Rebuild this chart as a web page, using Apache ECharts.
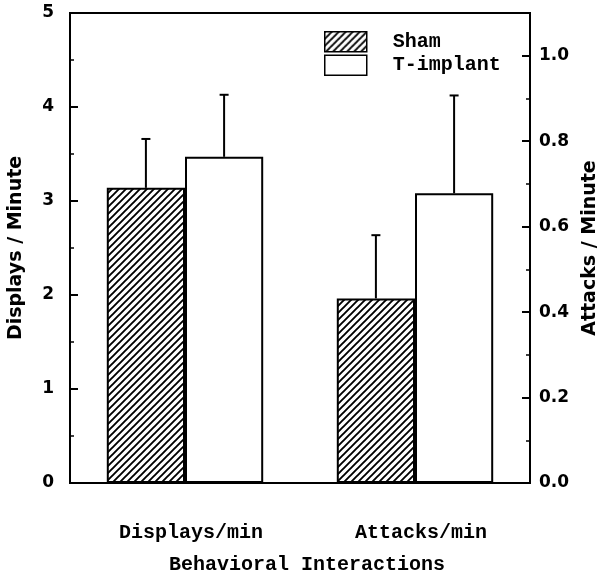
<!DOCTYPE html>
<html>
<head>
<meta charset="utf-8">
<script src="https://cdn.jsdelivr.net/npm/echarts@6/dist/echarts.min.js"></script>
<style>
  html, body { margin: 0; padding: 0; background: #fff; overflow: hidden; }
  #chart { width: 598px; height: 576px; }
</style>
</head>
<body>
<div id="chart"></div>
<script>
// ---- data ----
const categories = ['Displays/min', 'Attacks/min'];
const seriesNames = ['Sham', 'T-implant'];
const shamMean = [3.14, 0.432];     // displays on left axis, attacks on right axis
const tMean = [3.47, 0.678];
const shamUpper = [3.66, 0.580];    // top of error bar
const tUpper = [4.13, 0.907];
const leftTicks = [0, 1, 2, 3, 4, 5];
const rightTicks = [0.0, 0.2, 0.4, 0.6, 0.8, 1.0];

// ---- hatch pattern ----
function makeHatch() {
  const s = 7;
  const c = document.createElement('canvas');
  c.width = s; c.height = s;
  const g = c.getContext('2d');
  g.fillStyle = '#fff';
  g.fillRect(0, 0, s, s);
  g.strokeStyle = '#000';
  g.lineWidth = 1.9;
  g.beginPath();
  g.moveTo(-1, s + 1); g.lineTo(s + 1, -1);
  g.moveTo(-1, 1); g.lineTo(1, -1);
  g.moveTo(s - 1, s + 1); g.lineTo(s + 1, s - 1);
  g.stroke();
  return c;
}
const hatch = { image: makeHatch(), repeat: 'repeat' };

const BAR_W = '34%';
const monoFont = 'Liberation Mono';
const sansFont = 'DejaVu Sans';

function errorRender(params, api) {
  const cat = api.value(0);
  const mean = api.value(1);
  const upper = api.value(2);
  const side = api.value(3);
  const bandW = api.size([1, 0])[0];
  const bw = bandW * 0.34;
  const p0 = api.coord([cat, mean]);
  const p1 = api.coord([cat, upper]);
  const x = p0[0] + side * bw / 2;
  const capHalf = 4.5;
  return {
    type: 'group',
    children: [
      { type: 'line', shape: { x1: x, y1: p0[1], x2: x, y2: p1[1] }, style: { stroke: '#000', lineWidth: 2 } },
      { type: 'line', shape: { x1: x - capHalf, y1: p1[1], x2: x + capHalf, y2: p1[1] }, style: { stroke: '#000', lineWidth: 2 } }
    ]
  };
}

const chart = echarts.init(document.getElementById('chart'), null, { renderer: 'canvas' });
const barStyleSham = { color: hatch, borderColor: '#000', borderWidth: 2 };
const barStyleT = { color: '#fff', borderColor: '#000', borderWidth: 2 };

chart.setOption({
  animation: false,
  backgroundColor: '#fff',
  grid: {
    left: 70, right: 68, top: 13, bottom: 93,
    containLabel: false, outerBoundsMode: 'none',
    show: true, borderColor: '#000', borderWidth: 2, backgroundColor: 'transparent'
  },
  legend: {
    data: seriesNames,
    orient: 'vertical',
    left: 324, top: 31, padding: 0,
    icon: 'rect',
    itemWidth: 42, itemHeight: 20, itemGap: 2,
    textStyle: { fontFamily: monoFont, fontWeight: 'bold', fontSize: 20, color: '#000', padding: [0, 0, 0, 21] },
    itemStyle: { borderColor: '#000', borderWidth: 1.5 }
  },
  xAxis: [
    {
      type: 'category', data: categories, gridIndex: 0,
      axisLine: { show: true, lineStyle: { color: '#000', width: 2 } },
      axisTick: { show: false },
      axisLabel: { fontFamily: monoFont, fontWeight: 'bold', fontSize: 20, color: '#000', margin: 40, padding: [0, 0, 0, 12] },
      name: 'Behavioral Interactions', nameLocation: 'middle', nameGap: 72,
      nameTextStyle: { fontFamily: monoFont, fontWeight: 'bold', fontSize: 20, color: '#000', padding: [0, 0, 0, 14] }
    },
    { type: 'category', data: categories, gridIndex: 0, show: false }
  ],
  yAxis: [
    {
      type: 'value', min: leftTicks[0], max: leftTicks[leftTicks.length - 1], interval: 1,
      position: 'left',
      axisLine: { show: true, lineStyle: { color: '#000', width: 2 } },
      axisTick: { show: true, inside: true, length: 8, lineStyle: { color: '#000', width: 2 } },
      minorTick: { show: true, splitNumber: 2, length: 4, lineStyle: { color: '#000', width: 1.5 } },
      splitLine: { show: false },
      axisLabel: { fontFamily: sansFont, fontWeight: 'bold', fontSize: 17, color: '#000', margin: 16 },
      name: 'Displays / Minute', nameLocation: 'middle', nameGap: 44,
      nameTextStyle: { fontFamily: sansFont, fontWeight: 'bold', fontSize: 19, color: '#000' }
    },
    {
      type: 'value', min: rightTicks[0], max: 1.1, interval: 0.2,
      position: 'right',
      axisLine: { show: true, lineStyle: { color: '#000', width: 2 } },
      axisTick: { show: true, inside: true, length: 8, lineStyle: { color: '#000', width: 2 } },
      minorTick: { show: true, splitNumber: 2, length: 4, lineStyle: { color: '#000', width: 1.5 } },
      splitLine: { show: false },
      axisLabel: {
        fontFamily: sansFont, fontWeight: 'bold', fontSize: 17, color: '#000', margin: 9,
        formatter: function (v) { return v > 1.05 ? '' : v.toFixed(1); }
      },
      name: 'Attacks / Minute', nameLocation: 'middle', nameGap: 51, nameRotate: 90,
      nameTextStyle: { fontFamily: sansFont, fontWeight: 'bold', fontSize: 19, color: '#000' }
    }
  ],
  series: [
    { name: 'Sham', type: 'bar', xAxisIndex: 0, yAxisIndex: 0, barWidth: BAR_W, barGap: '0%', itemStyle: barStyleSham, data: [shamMean[0], '-'] },
    { name: 'T-implant', type: 'bar', xAxisIndex: 0, yAxisIndex: 0, barWidth: BAR_W, barGap: '0%', itemStyle: barStyleT, data: [tMean[0], '-'] },
    { name: 'Sham', type: 'bar', xAxisIndex: 1, yAxisIndex: 1, barWidth: BAR_W, barGap: '0%', itemStyle: barStyleSham, data: ['-', shamMean[1]] },
    { name: 'T-implant', type: 'bar', xAxisIndex: 1, yAxisIndex: 1, barWidth: BAR_W, barGap: '0%', itemStyle: barStyleT, data: ['-', tMean[1]] },
    {
      name: 'errDisplays', type: 'custom', xAxisIndex: 0, yAxisIndex: 0, renderItem: errorRender, z: 1,
      data: [[0, shamMean[0], shamUpper[0], -1], [0, tMean[0], tUpper[0], 1]]
    },
    {
      name: 'errAttacks', type: 'custom', xAxisIndex: 1, yAxisIndex: 1, renderItem: errorRender, z: 1,
      data: [[1, shamMean[1], shamUpper[1], -1], [1, tMean[1], tUpper[1], 1]]
    }
  ]
});
</script>
</body>
</html>
